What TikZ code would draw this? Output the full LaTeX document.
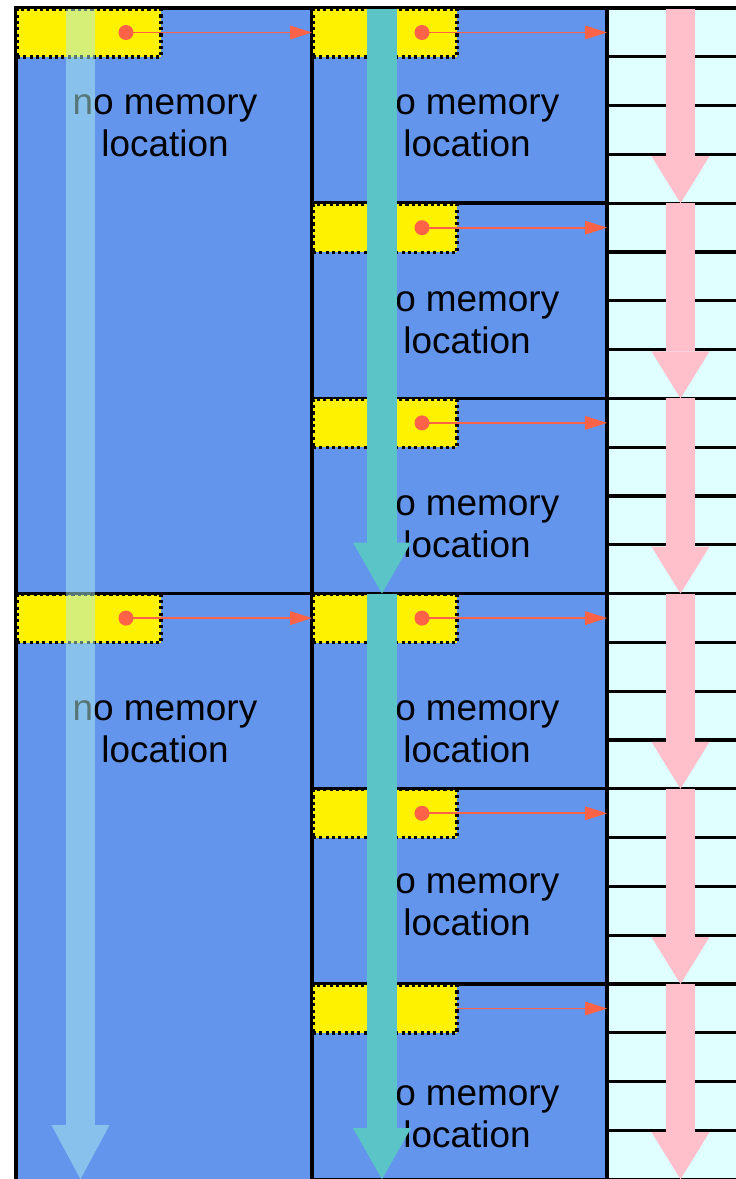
\documentclass[tikz,border=0pt]{standalone}
\usepackage{fontspec}
\setmainfont{Liberation Sans}
\usetikzlibrary{positioning, arrows.meta}
\definecolor{BlockBlue}{HTML}{6495ED}
\definecolor{CellCyan}{HTML}{E0FFFF}
\definecolor{PtrRed}{HTML}{FF6347}
\definecolor{WalkTeal}{HTML}{5AC4C6}
\definecolor{WalkPink}{HTML}{FFC0CB}
\definecolor{WalkSky}{HTML}{AFEEEE}

\begin{document}
\begin{tikzpicture}[x=0.02cm, y=-0.02cm,
  lblock/.style={draw=black, fill=BlockBlue, line width=1.9pt, outer sep=0pt,
                 inner sep=0pt, anchor=north west, minimum width=5.92cm},
  mblock/.style={draw=black, fill=BlockBlue, line width=1.9pt, outer sep=0pt,
                 inner sep=0pt, anchor=north west, minimum width=5.9cm,
                 minimum height=3.904cm},
  rcell/.style={draw=black, fill=CellCyan, line width=1.9pt, outer sep=0pt,
                inner sep=0pt, anchor=north west, minimum width=3cm,
                minimum height=0.976cm},
  ybox/.style={draw=black, fill=yellow, line width=1.8pt,
               dash pattern=on 1.8pt off 1.8pt, outer sep=0pt, inner sep=0pt,
               anchor=north west, minimum width=2.88cm, minimum height=0.96cm},
  pdot/.style={circle, fill=PtrRed, minimum size=0.3cm, inner sep=0pt},
  ptr/.style={-{Triangle[length=0.44cm, width=0.28cm, line width=0pt]}, PtrRed,
              line width=1pt},
  txt/.style={align=center, font=\fontsize{21}{23.9}\selectfont},
  skywalk/.style={WalkSky, opacity=0.5, line width=0.58cm,
                  -{Triangle[length=1.08cm, width=1.16cm, line width=0pt]}},
  tealwalk/.style={WalkTeal, line width=0.6cm,
                   -{Triangle[length=1.02cm, width=1.16cm, line width=0pt]}},
  pinkwalk/.style={WalkPink, line width=0.58cm,
                   -{Triangle[length=0.94cm, width=1.16cm, line width=0pt]}},
]
  \useasboundingbox (0, 0) rectangle (736, 1179);

  \node[lblock, minimum height=11.72cm] (L1) at (16, 8) {};
  \node[lblock, minimum height=11.9cm] (L2) at (16, 593.6) {};
  \node[mblock] (M1) at (312, 8) {};
  \node[mblock] (M2) at (312, 203.2) {};
  \node[mblock] (M3) at (312, 398.4) {};
  \node[mblock] (M4) at (312, 593.6) {};
  \node[mblock] (M5) at (312, 788.8) {};
  \node[mblock] (M6) at (312, 984) {};
  \foreach \i in {0,...,23}
    \node[rcell] (c\i) at (607, 8+48.8*\i) {};

  \node[ybox] (y1) at ([shift={(0.02cm,-0.02cm)}]L1.north west) {};
  \node[ybox] (y2) at ([shift={(0.02cm,-0.02cm)}]L2.north west) {};
  \node[ybox] (y3) at ([shift={(0.02cm,-0.02cm)}]M1.north west) {};
  \node[ybox] (y4) at ([shift={(0.02cm,-0.02cm)}]M2.north west) {};
  \node[ybox] (y5) at ([shift={(0.02cm,-0.02cm)}]M3.north west) {};
  \node[ybox] (y6) at ([shift={(0.02cm,-0.02cm)}]M4.north west) {};
  \node[ybox] (y7) at ([shift={(0.02cm,-0.02cm)}]M5.north west) {};
  \node[ybox] (y8) at ([shift={(0.02cm,-0.02cm)}]M6.north west) {};

  \node[pdot] (p1) at ([shift={(0.74cm,0.01cm)}]y1.center) {};
  \node[pdot] (p2) at ([shift={(0.74cm,0.01cm)}]y2.center) {};
  \node[pdot] (p3) at ([shift={(0.74cm,0.01cm)}]y3.center) {};
  \node[pdot] (p4) at ([shift={(0.74cm,0.01cm)}]y4.center) {};
  \node[pdot] (p5) at ([shift={(0.74cm,0.01cm)}]y5.center) {};
  \node[pdot] (p6) at ([shift={(0.74cm,0.01cm)}]y6.center) {};
  \node[pdot] (p7) at ([shift={(0.74cm,0.01cm)}]y7.center) {};
  \draw[ptr] (p1.center) -- (p1 -| M1.west);
  \draw[ptr] (p2.center) -- (p2 -| M4.west);
  \draw[ptr] (p3.center) -- (p3 -| c0.west);
  \draw[ptr] (p4.center) -- (p4 -| c0.west);
  \draw[ptr] (p5.center) -- (p5 -| c0.west);
  \draw[ptr] (p6.center) -- (p6 -| c0.west);
  \draw[ptr] (p7.center) -- (p7 -| c0.west);
  \draw[ptr] ([yshift=0.01cm]y8.east) -- ([yshift=0.01cm]y8.east -| c0.west);

  \node[txt] (t1) at (165, 126) {no memory\\location};
  \node[txt] (t2) at (467, 126) {no memory\\location};
  \node[txt] (t3) at (467, 323) {no memory\\location};
  \node[txt] (t4) at (467, 527) {no memory\\location};
  \node[txt] (t5) at (165, 732) {no memory\\location};
  \node[txt] (t6) at (467, 732) {no memory\\location};
  \node[txt] (t7) at (467, 905) {no memory\\location};
  \node[txt] (t8) at (467, 1117) {no memory\\location};

  \draw[pinkwalk] ([shift={(1.47cm,-0.03cm)}]c0.north west) -- ([xshift=1.47cm]c3.south west);
  \draw[pinkwalk] ([xshift=1.47cm]c4.north west) -- ([xshift=1.47cm]c7.south west);
  \draw[pinkwalk] ([xshift=1.47cm]c8.north west) -- ([xshift=1.47cm]c11.south west);
  \draw[pinkwalk] ([xshift=1.47cm]c12.north west) -- ([xshift=1.47cm]c15.south west);
  \draw[pinkwalk] ([xshift=1.47cm]c16.north west) -- ([xshift=1.47cm]c19.south west);
  \draw[pinkwalk] ([xshift=1.47cm]c20.north west) -- ([xshift=1.47cm]c23.south west);
  \draw[tealwalk] ([shift={(1.4cm,-0.03cm)}]M1.north west) -- ([xshift=1.4cm]M3.south west);
  \draw[tealwalk] ([xshift=1.4cm]M4.north west) -- ([xshift=1.4cm]M6.south west);
  \draw[skywalk] ([shift={(1.29cm,-0.03cm)}]L1.north west) -- ([xshift=1.29cm]L1.north west |- M6.south);
\end{tikzpicture}
\end{document}
